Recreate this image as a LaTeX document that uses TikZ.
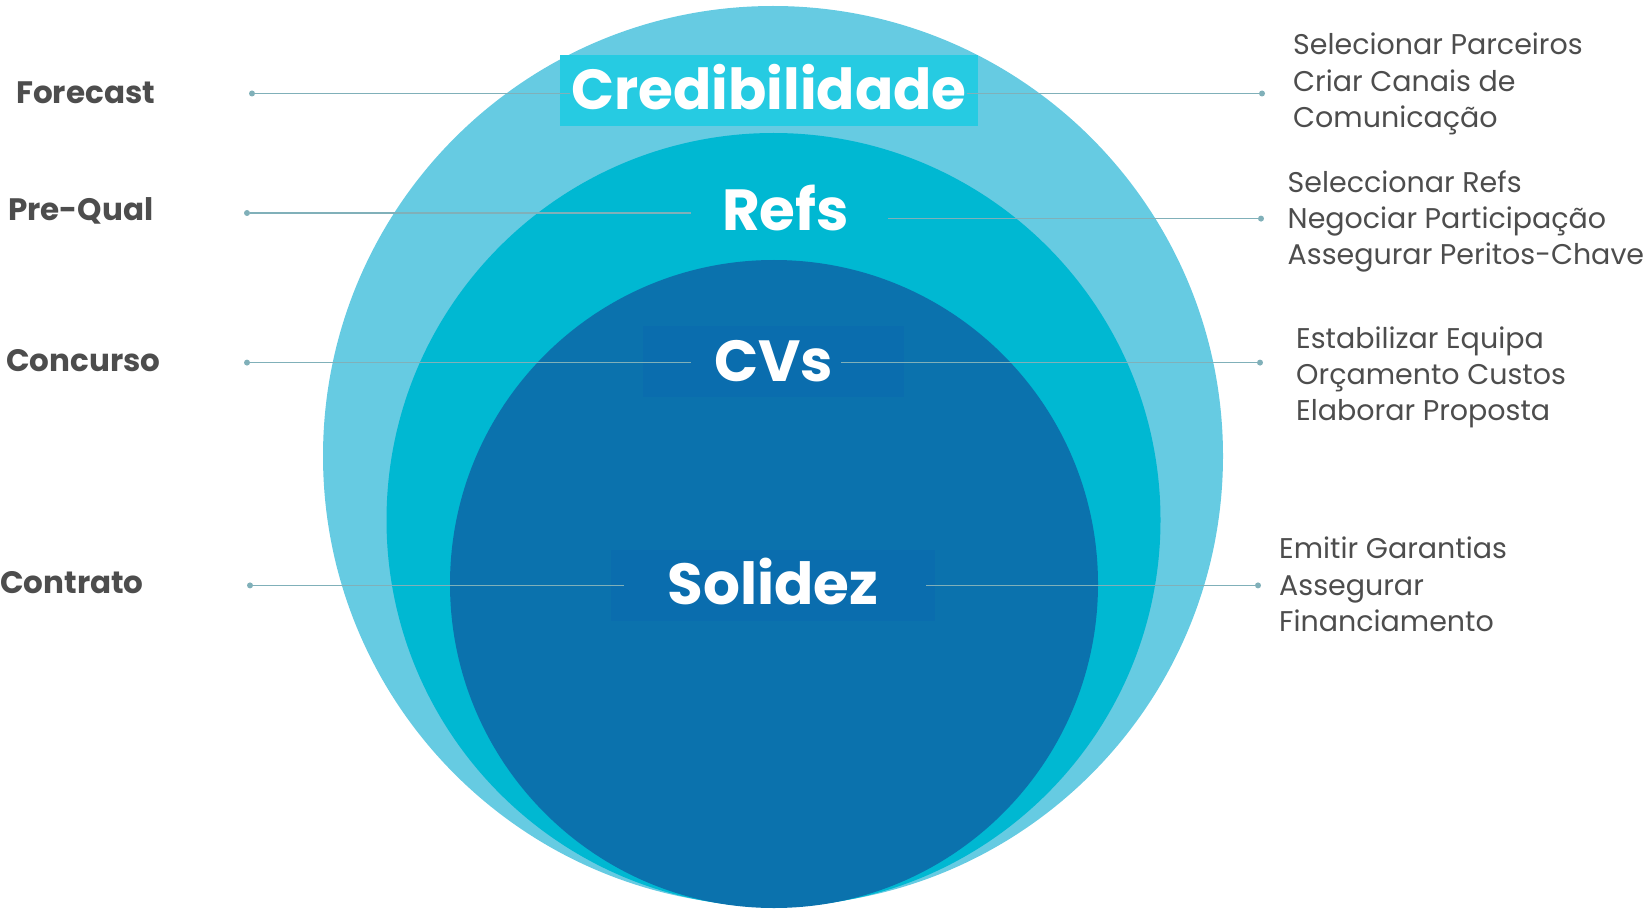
\documentclass[tikz,border=0pt]{standalone}
\usepackage{fontspec}
\setmainfont{Poppins}
\usepackage{xcolor}
\usepackage{tikz}
\usetikzlibrary{positioning}

\definecolor{ringOuter}{HTML}{66CBE2}
\definecolor{ringMid}{HTML}{00B8D2}
\definecolor{ringCore}{HTML}{0B72AD}
\definecolor{boxCred}{HTML}{26CBE2}
\definecolor{boxCore}{HTML}{0A6DAE}
\definecolor{leader}{HTML}{80B0B9}
\definecolor{labelGray}{HTML}{4D4D4D}

\tikzset{
    stage/.style={font=\bfseries\fontsize{31}{36}\selectfont, text=labelGray, inner sep=0pt, anchor=west},
    ring/.style={font=\bfseries\fontsize{58}{64}\selectfont, text=white, inner sep=0pt, minimum height=71pt},
    task/.style={font=\fontsize{28.5}{36.3}\selectfont, text=labelGray, align=left, anchor=west, inner sep=0pt},
    pin/.style={circle, fill=leader, inner sep=0pt, minimum size=6pt},
    leadline/.style={draw=leader, line width=1.6pt},
}

\begin{document}
\begin{tikzpicture}[x=1pt, y=-1pt]
            \useasboundingbox (0,0) rectangle (1648,909);

            \fill[ringOuter] (773,456) circle (450);
            \fill[ringMid] (773.5,520) circle (387);
            \fill[ringCore] (774,584) circle (324);

            \node[ring, fill=boxCred, minimum width=418pt, text depth=8pt, font=\bfseries\fontsize{56.5}{64}\selectfont] (cred) at (769,91) {Credibilidade};
            \node[ring] (refs) at (785.5,208) {Refs};
            \node[ring, fill=boxCore, minimum width=261pt] (cvs) at (773.5,361.5) {CVs};
            \node[ring, fill=boxCore, minimum width=324pt, text depth=8pt] (solidez) at (773,585.5) {Solidez};

            \node[stage] (forecast) at (16,93) {Forecast};
            \node[stage] (prequal) at (8,211) {Pre-Qual};
            \node[stage] (concurso) at (6,360.5) {Concurso};
            \node[stage] (contrato) at (0,583) {Contrato};

            \node[pin] (pinF) at (252,93.5) {};
            \node[pin] (pinP) at (247,213) {};
            \node[pin] (pinC) at (247,362.6) {};
            \node[pin] (pinK) at (250,585.4) {};
            \node[pin] (pinFr) at (1262,93.5) {};
            \node[pin] (pinPr) at (1261,218.6) {};
            \node[pin] (pinCr) at (1260,362.6) {};
            \node[pin] (pinKr) at (1258,585.4) {};

            \coordinate (credL) at (570,93.5);
            \coordinate (credR) at (967,93.5);
            \coordinate (refsL) at (690.5,213);
            \coordinate (refsR) at (888,218.6);
            \coordinate (cvsL) at (690.5,362.6);
            \coordinate (cvsR) at (841,362.6);
            \coordinate (solL) at (624,585.4);
            \coordinate (solR) at (926,585.4);

            \draw[leadline] (pinF) -- (credL);
            \draw[leadline] (credR) -- (pinFr);
            \draw[leadline] (pinP) -- (refsL);
            \draw[leadline] (refsR) -- (pinPr);
            \draw[leadline] (pinC) -- (cvsL);
            \draw[leadline] (cvsR) -- (pinCr);
            \draw[leadline] (pinK) -- (solL);
            \draw[leadline] (solR) -- (pinKr);

            \node[task] (tasksF) at (1293,84) {Selecionar Parceiros\\Criar Canais de\\Comunicação};
            \node[task] (tasksP) at (1287.5,221.5) {Seleccionar Refs\\Negociar Participação\\Assegurar Peritos-Chave};
            \node[task] (tasksC) at (1296,377.5) {Estabilizar Equipa\\Orçamento Custos\\Elaborar Proposta};
            \node[task] (tasksK) at (1279,584.4) {Emitir Garantias\\Assegurar\\Financiamento};
        \end{tikzpicture}
\end{document}
